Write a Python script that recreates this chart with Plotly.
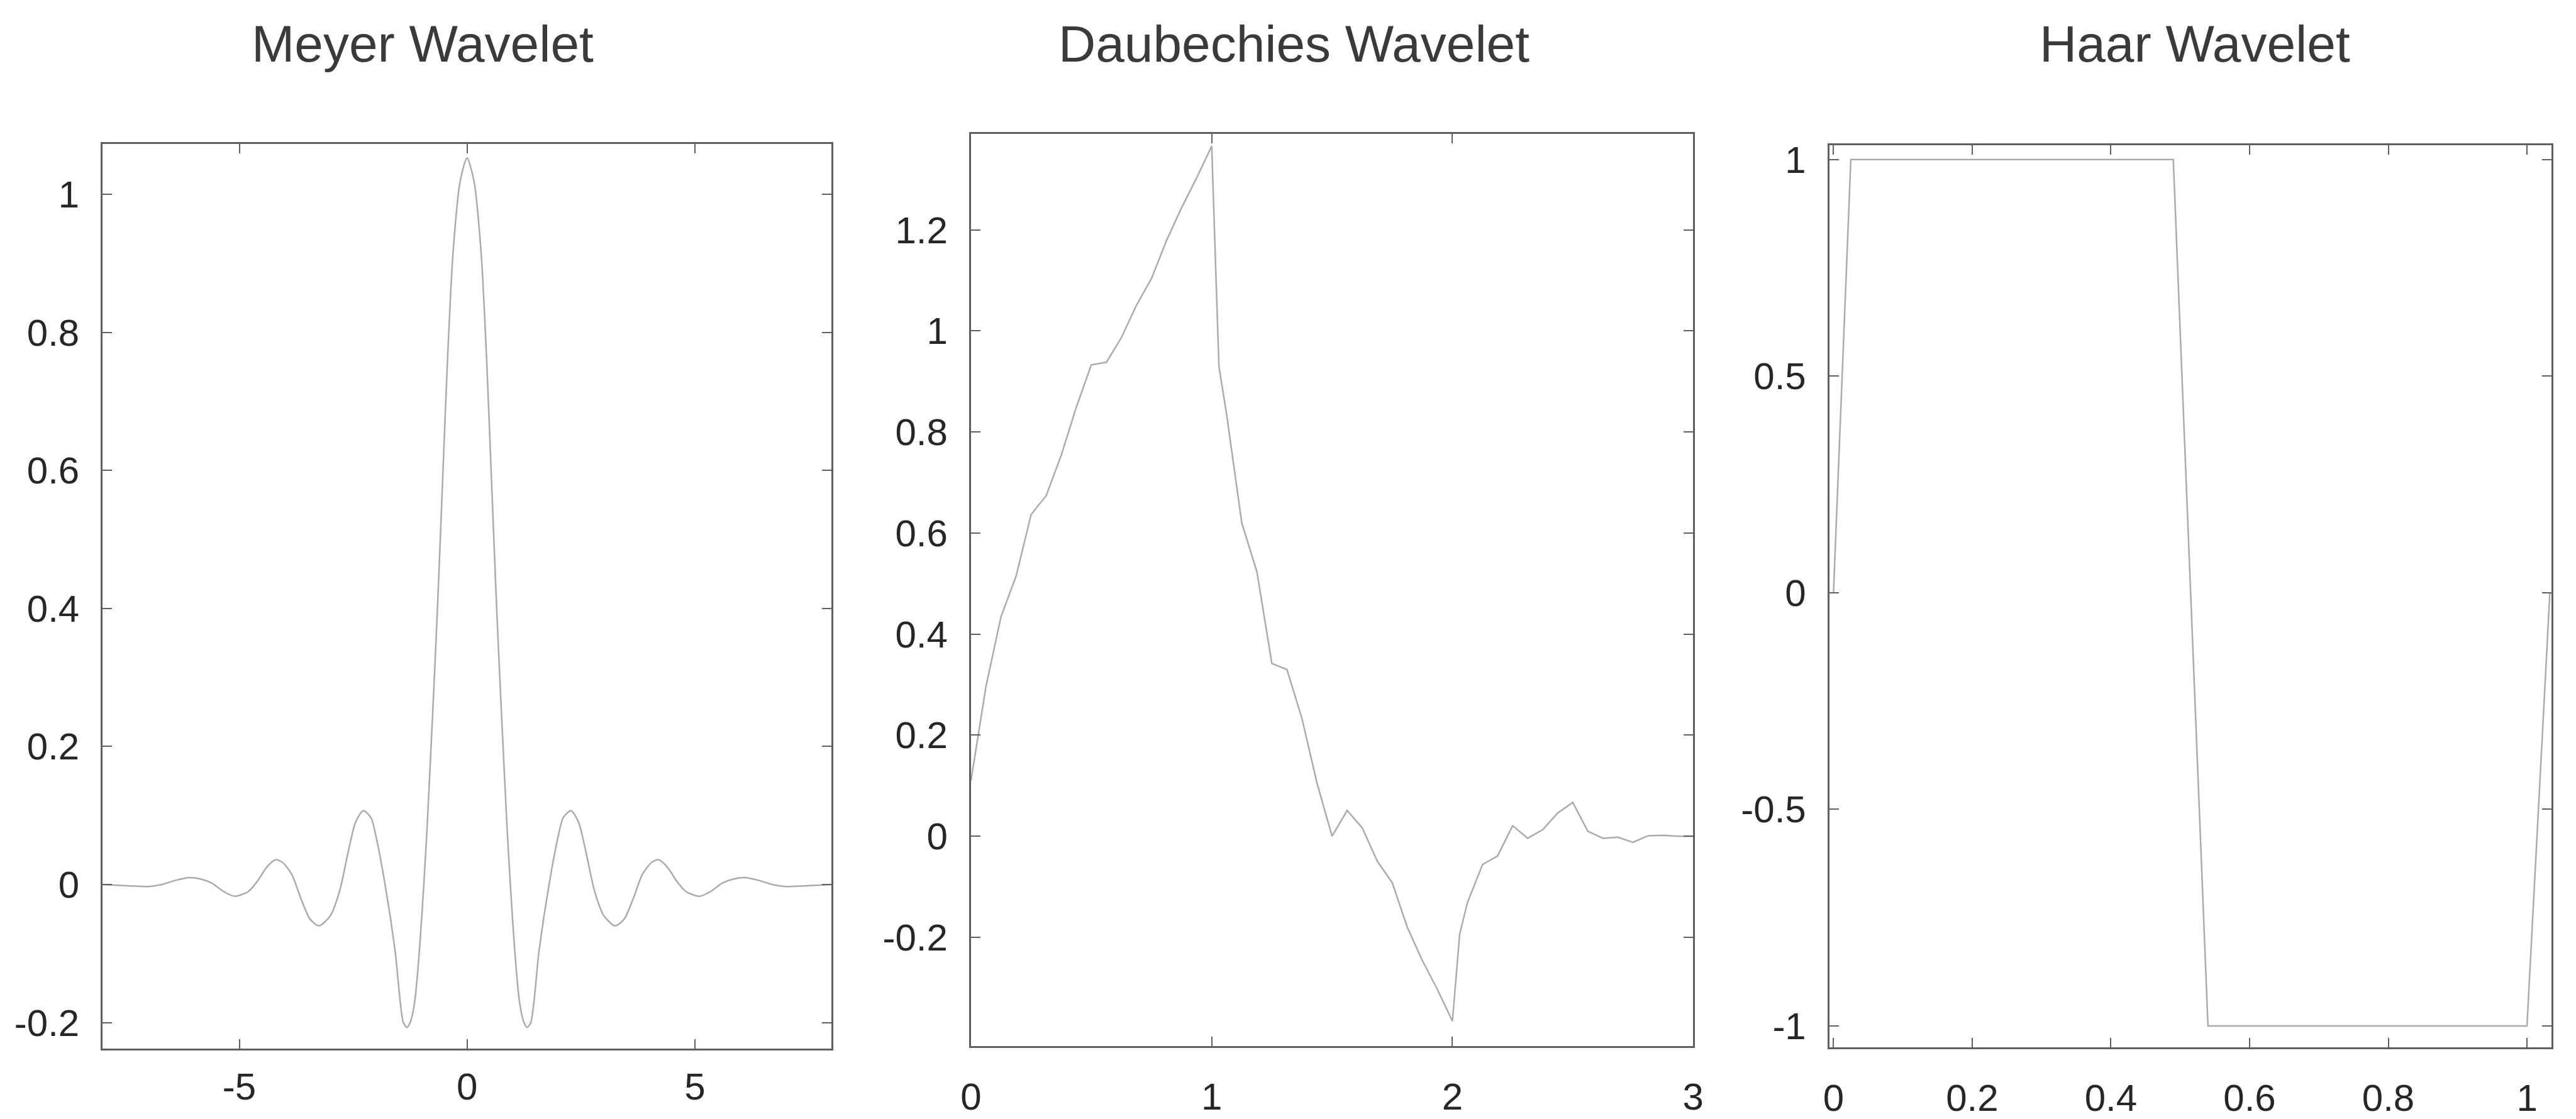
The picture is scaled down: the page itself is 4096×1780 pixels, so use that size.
import plotly.graph_objects as go

# ---------------- data ----------------
meyer_x = [-8.0, -7.4, -7.0, -6.7, -6.4, -6.1, -5.85, -5.6, -5.35, -5.1, -4.8, -4.6,
           -4.4, -4.2, -4.05, -3.85, -3.65, -3.45, -3.25, -3.0, -2.8, -2.6, -2.45,
           -2.28, -2.11, -2.0, -1.8, -1.58, -1.4, -1.32, -1.25, -1.15, -1.04, -0.95,
           -0.88, -0.76, -0.65, -0.54, -0.43, -0.31, -0.15, 0.0, 0.15, 0.31, 0.43,
           0.54, 0.65, 0.76, 0.88, 0.95, 1.04, 1.15, 1.25, 1.32, 1.4, 1.58, 1.8, 2.0,
           2.11, 2.28, 2.45, 2.6, 2.8, 3.0, 3.25, 3.45, 3.65, 3.85, 4.05, 4.2, 4.4,
           4.6, 4.8, 5.1, 5.35, 5.6, 5.85, 6.1, 6.4, 6.7, 7.0, 7.4, 8.0]
meyer_y = [0.0, -0.002, -0.003, 0.0, 0.006, 0.01, 0.008, 0.002, -0.01, -0.017, -0.01,
           0.005, 0.025, 0.036, 0.032, 0.015, -0.02, -0.05, -0.06, -0.045, -0.01, 0.05,
           0.09, 0.107, 0.097, 0.07, 0.0, -0.096, -0.2, -0.207, -0.2, -0.17, -0.09,
           0.0, 0.08, 0.241, 0.40, 0.58, 0.76, 0.914, 1.02, 1.053, 1.02, 0.914, 0.76,
           0.58, 0.40, 0.241, 0.08, 0.0, -0.09, -0.17, -0.2, -0.207, -0.2, -0.096,
           0.0, 0.07, 0.097, 0.107, 0.09, 0.05, -0.01, -0.045, -0.06, -0.05, -0.02,
           0.015, 0.032, 0.036, 0.025, 0.005, -0.01, -0.017, -0.01, 0.002, 0.008,
           0.01, 0.006, 0.0, -0.003, -0.002, 0.0]

dau_x = [0.0, 0.0625, 0.125, 0.1875, 0.25, 0.3125, 0.375, 0.4375, 0.5, 0.5625,
         0.625, 0.6875, 0.75, 0.8125, 0.875, 0.9375, 1.0, 1.03, 1.0625, 1.125,
         1.1875, 1.25, 1.3125, 1.375, 1.4375, 1.5, 1.5625, 1.625, 1.6875, 1.75,
         1.8125, 1.875, 1.9375, 2.0, 2.03, 2.0625, 2.125, 2.1875, 2.25, 2.3125,
         2.375, 2.4375, 2.5, 2.5625, 2.625, 2.6875, 2.75, 2.8125, 2.875, 2.9375, 3.0]
dau_y = [0.11, 0.297, 0.435, 0.515, 0.637, 0.674, 0.754, 0.849, 0.933, 0.938,
         0.987, 1.051, 1.104, 1.179, 1.244, 1.303, 1.366, 0.93, 0.833, 0.62,
         0.524, 0.342, 0.33, 0.233, 0.105, 0.0, 0.051, 0.017, -0.049, -0.092,
         -0.18, -0.246, -0.303, -0.366, -0.194, -0.131, -0.056, -0.039, 0.021, -0.004,
         0.013, 0.046, 0.067, 0.01, -0.004, -0.002, -0.012, 0.001, 0.002, 0.0, 0.0]

haar_x = [0.0, 0.025, 0.49, 0.54, 1.0, 1.033]
haar_y = [0.0, 1.0, 1.0, -1.0, -1.0, 0.0]

titles = ["Meyer Wavelet", "Daubechies Wavelet", "Haar Wavelet"]
meyer_xticks = [-5, 0, 5]
meyer_yticks = [-0.2, 0, 0.2, 0.4, 0.6, 0.8, 1]
dau_xticks = [0, 1, 2, 3]
dau_yticks = [-0.2, 0, 0.2, 0.4, 0.6, 0.8, 1, 1.2]
haar_xticks = [0, 0.2, 0.4, 0.6, 0.8, 1]
haar_yticks = [-1, -0.5, 0, 0.5, 1]

# ---------------- styling ----------------
W, H = 4096, 1780
FONT = "Liberation Sans, Arial, Helvetica, sans-serif"
CURVE = "#ababab"
AXC = "#5f5f5f"
TICKFONT = dict(family=FONT, size=60, color="#262626")

fig = go.Figure()
fig.add_trace(go.Scatter(x=meyer_x, y=meyer_y, mode="lines", xaxis="x", yaxis="y",
                         line=dict(color=CURVE, width=2.5, shape="spline", smoothing=0.7),
                         showlegend=False, hoverinfo="skip"))
fig.add_trace(go.Scatter(x=dau_x, y=dau_y, mode="lines", xaxis="x2", yaxis="y2",
                         line=dict(color=CURVE, width=2.5), showlegend=False, hoverinfo="skip"))
fig.add_trace(go.Scatter(x=haar_x, y=haar_y, mode="lines", xaxis="x3", yaxis="y3",
                         line=dict(color=CURVE, width=2.5), showlegend=False, hoverinfo="skip"))


def ax(domain, rng, ticks, anchor, standoff):
    return dict(domain=domain, range=rng, anchor=anchor, tickvals=ticks,
                ticktext=[("%g" % t) for t in ticks],
                showline=True, linecolor=AXC, linewidth=3, mirror="ticks",
                ticks="inside", ticklen=15, tickwidth=2, tickcolor=AXC,
                showgrid=False, zeroline=False, tickfont=TICKFONT,
                ticklabelstandoff=standoff, fixedrange=True)


layout = dict(
    width=W, height=H, autosize=False,
    margin=dict(l=0, r=0, t=0, b=0, pad=0),
    paper_bgcolor="white", plot_bgcolor="white",
    showlegend=False,
    xaxis=ax([0.0360, 0.3213], [-8, 8], meyer_xticks, "y", 6),
    yaxis=ax([0.0573, 0.8753], [-0.238, 1.073], meyer_yticks, "x", 22),
    xaxis2=ax([0.3759, 0.6586], [0, 3], dau_xticks, "y2", 26),
    yaxis2=ax([0.0598, 0.8846], [-0.415, 1.39], dau_yticks, "x2", 22),
    xaxis3=ax([0.7119, 0.9945], [-0.006, 1.035], haar_xticks, "y3", 26),
    yaxis3=ax([0.0583, 0.8743], [-1.05, 1.033], haar_yticks, "x3", 22),
)
fig.update_layout(**layout)

title_x = [660 / W, 2058 / W, 3502 / W]
for t, xp in zip(titles, title_x):
    fig.add_annotation(text=t, x=xp, y=1 - 60 / H, xref="paper", yref="paper",
                       xanchor="center", yanchor="middle", showarrow=False,
                       font=dict(family=FONT, size=82, color="#3a3a3a"))

fig.write_html("out.html", config={"displayModeBar": False})
